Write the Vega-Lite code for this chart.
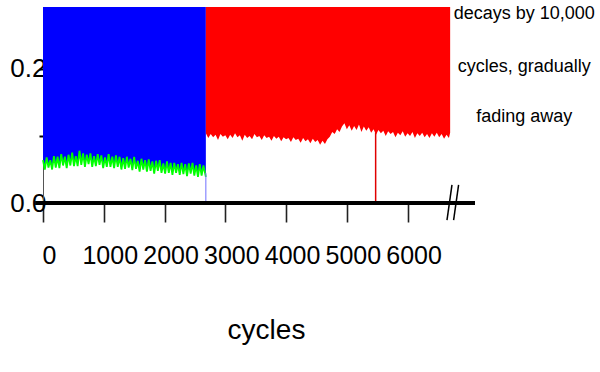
{
  "$schema": "https://vega.github.io/schema/vega-lite/v6.json",
  "width": 432,
  "height": 196,
  "autosize": {"type": "none"},
  "padding": {"left": 43, "top": 7, "right": 125, "bottom": 169},
  "background": "white",
  "config": {"view": {"stroke": null}, "font": "Liberation Sans"},
  "data": {"values": [{}]},
  "datasets": {
    "wear": [
      {"cycle": 0, "value": 0.064}, {"cycle": 30, "value": 0.050}, {"cycle": 60, "value": 0.068}, {"cycle": 90, "value": 0.053},
      {"cycle": 120, "value": 0.064}, {"cycle": 150, "value": 0.050}, {"cycle": 180, "value": 0.070}, {"cycle": 210, "value": 0.053},
      {"cycle": 240, "value": 0.069}, {"cycle": 270, "value": 0.052}, {"cycle": 300, "value": 0.073}, {"cycle": 330, "value": 0.056},
      {"cycle": 360, "value": 0.069}, {"cycle": 390, "value": 0.052}, {"cycle": 420, "value": 0.072}, {"cycle": 450, "value": 0.056},
      {"cycle": 480, "value": 0.075}, {"cycle": 510, "value": 0.055}, {"cycle": 540, "value": 0.070}, {"cycle": 570, "value": 0.055},
      {"cycle": 600, "value": 0.078}, {"cycle": 630, "value": 0.057}, {"cycle": 660, "value": 0.074}, {"cycle": 690, "value": 0.054},
      {"cycle": 720, "value": 0.072}, {"cycle": 750, "value": 0.058}, {"cycle": 780, "value": 0.074}, {"cycle": 810, "value": 0.054},
      {"cycle": 840, "value": 0.070}, {"cycle": 870, "value": 0.055}, {"cycle": 900, "value": 0.073}, {"cycle": 930, "value": 0.057},
      {"cycle": 960, "value": 0.071}, {"cycle": 990, "value": 0.052}, {"cycle": 1020, "value": 0.068}, {"cycle": 1050, "value": 0.054},
      {"cycle": 1080, "value": 0.073}, {"cycle": 1110, "value": 0.054}, {"cycle": 1140, "value": 0.069}, {"cycle": 1170, "value": 0.052},
      {"cycle": 1200, "value": 0.071}, {"cycle": 1230, "value": 0.054}, {"cycle": 1260, "value": 0.069}, {"cycle": 1290, "value": 0.050},
      {"cycle": 1320, "value": 0.067}, {"cycle": 1350, "value": 0.051}, {"cycle": 1380, "value": 0.069}, {"cycle": 1410, "value": 0.053},
      {"cycle": 1440, "value": 0.066}, {"cycle": 1470, "value": 0.049}, {"cycle": 1500, "value": 0.069}, {"cycle": 1530, "value": 0.051},
      {"cycle": 1560, "value": 0.063}, {"cycle": 1590, "value": 0.047}, {"cycle": 1620, "value": 0.066}, {"cycle": 1650, "value": 0.050},
      {"cycle": 1680, "value": 0.064}, {"cycle": 1710, "value": 0.047}, {"cycle": 1740, "value": 0.065}, {"cycle": 1770, "value": 0.048},
      {"cycle": 1800, "value": 0.062}, {"cycle": 1830, "value": 0.044}, {"cycle": 1860, "value": 0.063}, {"cycle": 1890, "value": 0.048},
      {"cycle": 1920, "value": 0.064}, {"cycle": 1950, "value": 0.045}, {"cycle": 1980, "value": 0.059}, {"cycle": 2010, "value": 0.044},
      {"cycle": 2040, "value": 0.062}, {"cycle": 2070, "value": 0.045}, {"cycle": 2100, "value": 0.060}, {"cycle": 2130, "value": 0.042},
      {"cycle": 2160, "value": 0.060}, {"cycle": 2190, "value": 0.045}, {"cycle": 2220, "value": 0.058}, {"cycle": 2250, "value": 0.042},
      {"cycle": 2280, "value": 0.060}, {"cycle": 2310, "value": 0.043}, {"cycle": 2340, "value": 0.058}, {"cycle": 2370, "value": 0.040},
      {"cycle": 2400, "value": 0.059}, {"cycle": 2430, "value": 0.044}, {"cycle": 2460, "value": 0.060}, {"cycle": 2490, "value": 0.041},
      {"cycle": 2520, "value": 0.056}, {"cycle": 2550, "value": 0.039}, {"cycle": 2580, "value": 0.058}, {"cycle": 2610, "value": 0.041},
      {"cycle": 2640, "value": 0.056}, {"cycle": 2680, "value": 0.039}
    ],
    "tail": [
      {"cycle": 2680, "value": 0.104}, {"cycle": 2720, "value": 0.097}, {"cycle": 2760, "value": 0.103}, {"cycle": 2800, "value": 0.098},
      {"cycle": 2840, "value": 0.102}, {"cycle": 2880, "value": 0.094}, {"cycle": 2920, "value": 0.103}, {"cycle": 2960, "value": 0.099},
      {"cycle": 3000, "value": 0.101}, {"cycle": 3040, "value": 0.095}, {"cycle": 3080, "value": 0.102}, {"cycle": 3120, "value": 0.097},
      {"cycle": 3160, "value": 0.104}, {"cycle": 3200, "value": 0.098}, {"cycle": 3240, "value": 0.101}, {"cycle": 3280, "value": 0.093},
      {"cycle": 3320, "value": 0.102}, {"cycle": 3360, "value": 0.097}, {"cycle": 3400, "value": 0.100}, {"cycle": 3440, "value": 0.095},
      {"cycle": 3480, "value": 0.103}, {"cycle": 3520, "value": 0.098}, {"cycle": 3560, "value": 0.100}, {"cycle": 3600, "value": 0.094},
      {"cycle": 3640, "value": 0.101}, {"cycle": 3680, "value": 0.097}, {"cycle": 3720, "value": 0.099}, {"cycle": 3760, "value": 0.093},
      {"cycle": 3800, "value": 0.100}, {"cycle": 3840, "value": 0.096}, {"cycle": 3880, "value": 0.099}, {"cycle": 3920, "value": 0.092},
      {"cycle": 3960, "value": 0.098}, {"cycle": 4000, "value": 0.095}, {"cycle": 4040, "value": 0.097}, {"cycle": 4080, "value": 0.091},
      {"cycle": 4120, "value": 0.098}, {"cycle": 4160, "value": 0.094}, {"cycle": 4200, "value": 0.096}, {"cycle": 4240, "value": 0.090},
      {"cycle": 4280, "value": 0.097}, {"cycle": 4320, "value": 0.092}, {"cycle": 4360, "value": 0.095}, {"cycle": 4400, "value": 0.089},
      {"cycle": 4440, "value": 0.096}, {"cycle": 4480, "value": 0.091}, {"cycle": 4520, "value": 0.094}, {"cycle": 4560, "value": 0.087},
      {"cycle": 4600, "value": 0.093}, {"cycle": 4640, "value": 0.088}, {"cycle": 4680, "value": 0.095}, {"cycle": 4720, "value": 0.099},
      {"cycle": 4760, "value": 0.106}, {"cycle": 4800, "value": 0.103}, {"cycle": 4840, "value": 0.110}, {"cycle": 4880, "value": 0.106},
      {"cycle": 4920, "value": 0.114}, {"cycle": 4960, "value": 0.119}, {"cycle": 5000, "value": 0.110}, {"cycle": 5040, "value": 0.116},
      {"cycle": 5080, "value": 0.108}, {"cycle": 5120, "value": 0.115}, {"cycle": 5160, "value": 0.109}, {"cycle": 5200, "value": 0.117},
      {"cycle": 5240, "value": 0.106}, {"cycle": 5280, "value": 0.114}, {"cycle": 5320, "value": 0.108}, {"cycle": 5360, "value": 0.113},
      {"cycle": 5400, "value": 0.105}, {"cycle": 5440, "value": 0.110}, {"cycle": 5480, "value": 0.102}, {"cycle": 5520, "value": 0.109},
      {"cycle": 5560, "value": 0.104}, {"cycle": 5600, "value": 0.108}, {"cycle": 5640, "value": 0.100}, {"cycle": 5680, "value": 0.107},
      {"cycle": 5720, "value": 0.103}, {"cycle": 5760, "value": 0.106}, {"cycle": 5800, "value": 0.098}, {"cycle": 5840, "value": 0.105},
      {"cycle": 5880, "value": 0.101}, {"cycle": 5920, "value": 0.107}, {"cycle": 5960, "value": 0.099}, {"cycle": 6000, "value": 0.104},
      {"cycle": 6040, "value": 0.100}, {"cycle": 6080, "value": 0.106}, {"cycle": 6120, "value": 0.097}, {"cycle": 6160, "value": 0.104},
      {"cycle": 6200, "value": 0.100}, {"cycle": 6240, "value": 0.105}, {"cycle": 6280, "value": 0.098}, {"cycle": 6320, "value": 0.103},
      {"cycle": 6360, "value": 0.097}, {"cycle": 6400, "value": 0.104}, {"cycle": 6440, "value": 0.099}, {"cycle": 6480, "value": 0.105},
      {"cycle": 6520, "value": 0.098}, {"cycle": 6560, "value": 0.103}, {"cycle": 6600, "value": 0.096}, {"cycle": 6640, "value": 0.102},
      {"cycle": 6680, "value": 0.097}, {"cycle": 6700, "value": 0.105}
    ]
  },
  "layer": [
    {
      "data": {"name": "wear"},
      "mark": {"type": "area", "color": "#0000ff"},
      "encoding": {
        "x": {
          "field": "cycle", "type": "quantitative",
          "scale": {"domain": [0, 7109], "nice": false, "zero": false},
          "axis": {
            "values": [0, 500, 1000, 1500, 2000, 2500, 3000, 3500, 4000, 4500, 5000, 5500, 6000, 6500],
            "format": "d",
            "labelExpr": "datum.value % 1000 === 0 ? datum.label : ''",
            "domain": false,
            "grid": false,
            "tickColor": "#222222",
            "tickWidth": 1.6,
            "tickSize": {"condition": {"test": "datum.value % 1000 === 0", "value": 19}, "value": 11},
            "labelFont": "Liberation Sans",
            "labelFontSize": 25,
            "labelColor": "#000000",
            "labelPadding": 21,
            "labelOffset": 6,
            "labelFlush": false,
            "labelOverlap": false,
            "title": "cycles",
            "titleFont": "Liberation Sans",
            "titleFontSize": 28,
            "titleFontWeight": "normal",
            "titleColor": "#000000",
            "titlePadding": 48,
            "titleX": 223,
            "titleAlign": "center"
          }
        },
        "y": {
          "field": "value", "type": "quantitative",
          "scale": {"domain": [0, 0.2925], "nice": false},
          "axis": {
            "values": [0, 0.1, 0.2],
            "labelExpr": "datum.value === 0.1 ? '' : format(datum.value, '.1f')",
            "grid": false,
            "domainColor": "#555555",
            "domainWidth": 1,
            "tickSize": 4,
            "tickWidth": 2,
            "tickColor": "#000000",
            "labelFont": "Liberation Sans",
            "labelFontSize": 26,
            "labelColor": "#000000",
            "labelPadding": -7,
            "labelBaseline": "middle",
            "labelFlush": false,
            "labelOverlap": false,
            "title": null
          }
        },
        "y2": {"datum": 0.2925}
      }
    },
    {
      "data": {"name": "tail"},
      "mark": {"type": "area", "color": "#ff0000"},
      "encoding": {
        "x": {"field": "cycle", "type": "quantitative"},
        "y": {"field": "value", "type": "quantitative"},
        "y2": {"datum": 0.2925}
      }
    },
    {
      "data": {"name": "wear"},
      "mark": {"type": "line", "color": "#00ff00", "strokeWidth": 1.8},
      "encoding": {
        "x": {"field": "cycle", "type": "quantitative"},
        "y": {"field": "value", "type": "quantitative"}
      }
    },
    {
      "mark": {"type": "rule", "color": "#7070ff", "strokeWidth": 1},
      "encoding": {
        "x": {"datum": 2680, "type": "quantitative"},
        "y": {"datum": 0, "type": "quantitative"},
        "y2": {"datum": 0.045}
      }
    },
    {
      "mark": {"type": "rule", "color": "#e00000", "strokeWidth": 1.5},
      "encoding": {
        "x": {"datum": 5474, "type": "quantitative"},
        "y": {"datum": 0, "type": "quantitative"},
        "y2": {"datum": 0.105}
      }
    },
    {
      "mark": {"type": "rule", "color": "#000000", "strokeWidth": 4},
      "encoding": {
        "x": {"datum": -130, "type": "quantitative"},
        "x2": {"datum": 7109},
        "y": {"datum": 0, "type": "quantitative"}
      }
    },
    {
      "mark": {"type": "rule", "color": "#000000", "strokeWidth": 1.5, "clip": false},
      "encoding": {
        "x": {"datum": 6648, "type": "quantitative"},
        "x2": {"datum": 6730},
        "y": {"datum": -0.0254, "type": "quantitative"},
        "y2": {"datum": 0.0269}
      }
    },
    {
      "mark": {"type": "rule", "color": "#000000", "strokeWidth": 1.5, "clip": false},
      "encoding": {
        "x": {"datum": 6757, "type": "quantitative"},
        "x2": {"datum": 6839},
        "y": {"datum": -0.0254, "type": "quantitative"},
        "y2": {"datum": 0.0269}
      }
    },
    {
      "mark": {"type": "text", "text": "decays by 10,000", "font": "Liberation Sans", "fontSize": 18, "align": "center", "baseline": "alphabetic", "color": "#000000"},
      "encoding": {
        "x": {"datum": 7920, "type": "quantitative"},
        "y": {"datum": 0.2746, "type": "quantitative"}
      }
    },
    {
      "mark": {"type": "text", "text": "cycles, gradually", "font": "Liberation Sans", "fontSize": 18, "align": "center", "baseline": "alphabetic", "color": "#000000"},
      "encoding": {
        "x": {"datum": 7920, "type": "quantitative"},
        "y": {"datum": 0.1955, "type": "quantitative"}
      }
    },
    {
      "mark": {"type": "text", "text": "fading away", "font": "Liberation Sans", "fontSize": 18, "align": "center", "baseline": "alphabetic", "color": "#000000"},
      "encoding": {
        "x": {"datum": 7920, "type": "quantitative"},
        "y": {"datum": 0.1209, "type": "quantitative"}
      }
    }
  ]
}
